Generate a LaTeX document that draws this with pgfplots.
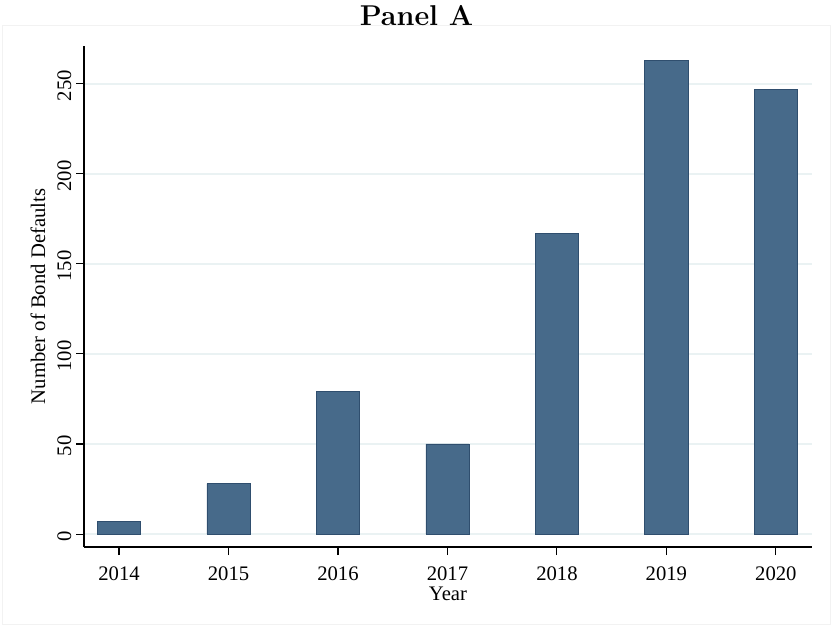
\documentclass[border=0pt]{standalone}
\usepackage{pgfplots}
\pgfplotsset{compat=1.18}
\usepackage{fontspec}
\setmainfont{Liberation Serif}
\newfontfamily\titlefont{Latin Modern Roman}
\definecolor{barfill}{HTML}{476A8A}
\definecolor{baredge}{HTML}{2F4E6E}
\definecolor{gridc}{HTML}{EAF2F3}
\begin{document}
\begin{tikzpicture}
\path[use as bounding box] (0,0) rectangle (624.75pt,-470.25pt);
\draw[color=black!5, line width=0.6pt] (2pt,-18.75pt) rectangle (623pt,-468pt);
\node[font=\titlefont\fontsize{21.5}{26}\selectfont\bfseries] at (312.4pt,-12pt) {Panel A};
\begin{axis}[
  at={(63pt,-410.25pt)}, anchor=south west,
  scale only axis, width=546pt, height=375.75pt,
  xmin=2013.68, xmax=2020.33, ymin=-7.2, ymax=271,
  axis x line*=bottom, axis y line*=left,
  axis line style={-, black, line width=0.8pt},
  tick align=outside, major tick length=6pt,
  tick style={black, line width=0.8pt},
  xtick={2014,2015,2016,2017,2018,2019,2020},
  xticklabels={2014,2015,2016,2017,2018,2019,2020},
  ytick={0,50,100,150,200,250},
  yticklabels={0,50,100,150,200,250},
  ticklabel style={font=\fontsize{15.5}{18}\selectfont},
  xticklabel style={yshift=-5.5pt},
  yticklabel style={rotate=90, anchor=south, xshift=-1.5pt},
  ymajorgrids, grid style={gridc, line width=1.2pt},
  ybar, bar width=0.393,
  every axis y label/.style={at={([xshift=-34.5pt]axis description cs:0,0.5)}, rotate=90, anchor=center, font=\fontsize{15.5}{18}\selectfont},
  every axis x label/.style={at={([yshift=-35.25pt]axis description cs:0.5,0)}, anchor=center, font=\fontsize{15.5}{18}\selectfont},
  ylabel={Number of Bond Defaults},
  xlabel={Year},
]
\addplot[ybar, fill=barfill, draw=baredge, line width=0.6pt] coordinates {
  (2014,7) (2015,28) (2016,79) (2017,50) (2018,167) (2019,263) (2020,247)
};
\end{axis}
\end{tikzpicture}
\end{document}
